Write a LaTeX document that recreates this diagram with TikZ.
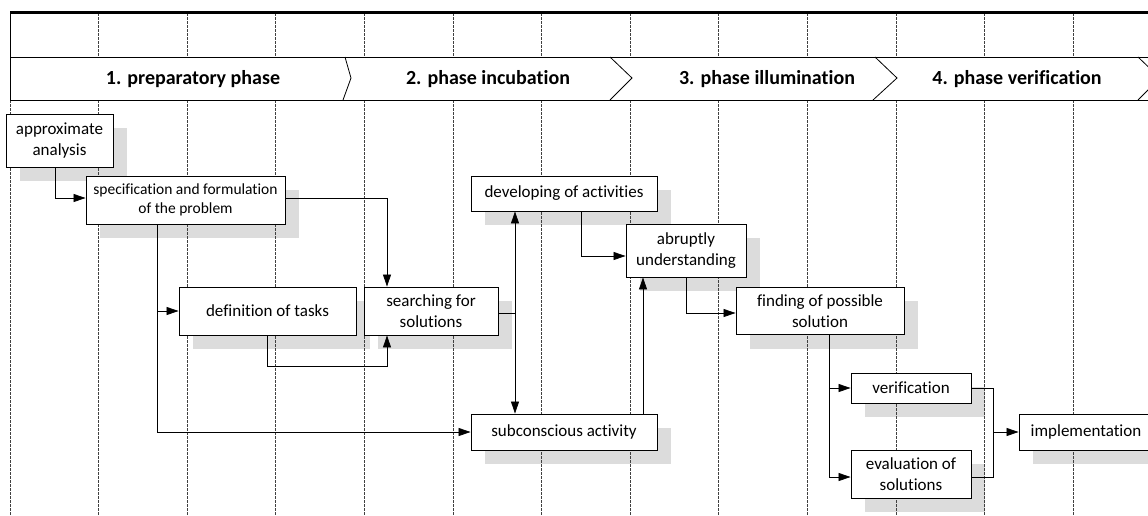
\documentclass[tikz,border=0pt]{standalone}
\usepackage{fontspec}
\setmainfont[Ligatures=NoCommon]{Carlito}
\usetikzlibrary{arrows.meta,positioning,calc}
\definecolor{shadowgray}{HTML}{DCDCDC}
\tikzset{
  box/.style={draw=black, line width=0.9pt, fill=white, inner sep=0pt, align=center,
    font=\fontsize{17}{21}\selectfont},
  conn/.style={draw=black, line width=0.8pt},
  arr/.style={conn, -{Triangle[length=12pt,width=8pt]}},
  arrtwo/.style={conn, {Triangle[length=12pt,width=8pt]}-{Triangle[length=12pt,width=8pt]}},
  gridline/.style={draw=black!75, line width=0.6pt, dash pattern=on 2.5pt off 1.5pt},
  header/.style={font=\fontsize{20}{24}\selectfont\bfseries, inner sep=0pt},
}
\begin{document}
\begin{tikzpicture}[x=1pt, y=-1pt]
\useasboundingbox (0,0) rectangle (1148,515);
\clip (0,0) rectangle (1148,515);
% shadows
\fill[shadowgray] (20,128) rectangle (127,181);
\fill[shadowgray] (100,190) rectangle (299,238);
\fill[shadowgray] (193,301) rectangle (370,349);
\fill[shadowgray] (378,301) rectangle (512,349);
\fill[shadowgray] (485,190) rectangle (671,225);
\fill[shadowgray] (640,238) rectangle (760,291);
\fill[shadowgray] (485,428) rectangle (671,464);
\fill[shadowgray] (750,301) rectangle (918,349);
\fill[shadowgray] (865,387) rectangle (985,417);
\fill[shadowgray] (865,464) rectangle (985,512);
\fill[shadowgray] (1033,428) rectangle (1167,464);
% grid lines
\foreach \i in {1,...,12} {
  \pgfmathsetmacro{\xx}{10+88.58*\i}
  \draw[gridline] (\xx,13) -- (\xx,57);
  \draw[gridline] (\xx,100) -- (\xx,515);
}
\draw[gridline] (10,100) -- (10,515);
% top frame and phase band
\draw[line width=3pt] (10,12) -- (1160,12);
\draw[line width=0.8pt] (10,12) -- (10,100);
\draw[line width=0.8pt] (10,57) -- (1160,57);
\draw[line width=0.8pt] (10,100) -- (1160,100);
\draw[line width=0.8pt] (345,57) -- (351,78) -- (343,100);
\draw[line width=0.8pt] (610,57) -- (632,78) -- (610,100);
\draw[line width=0.8pt] (875,57) -- (897,78) -- (873,100);
\draw[line width=0.8pt] (1138,57) -- (1160,78) -- (1138,100);
\node[header] (h1) at (193,79) {1. preparatory phase};
\node[header] (h2) at (488,79) {2. phase incubation};
\node[header] (h3) at (767,79) {3. phase illumination};
\node[header] (h4) at (1017,79) {4. phase verification};
% boxes
\node[box, minimum width=107pt, minimum height=53pt] (aa) at (59.5,140.5) {approximate\\analysis};
\node[box, minimum width=199pt, minimum height=48pt, font=\fontsize{15.5}{19.5}\selectfont] (spec) at (185.5,200) {specification and formulation\\of the problem};
\node[box, minimum width=177pt, minimum height=48pt] (def) at (267.5,311) {definition of tasks};
\node[box, minimum width=134pt, minimum height=48pt] (search) at (431,311) {searching for\\solutions};
\node[box, minimum width=186pt, minimum height=35pt] (dev) at (564,193.5) {developing of activities};
\node[box, minimum width=120pt, minimum height=53pt] (abr) at (686,250.5) {abruptly\\understanding};
\node[box, minimum width=186pt, minimum height=36pt] (sub) at (564,432) {subconscious activity};
\node[box, minimum width=168pt, minimum height=47pt] (find) at (820,311) {finding of possible\\solution};
\node[box, minimum width=120pt, minimum height=30pt] (ver) at (911,388) {verification};
\node[box, minimum width=120pt, minimum height=48pt] (eval) at (911,474) {evaluation of\\solutions};
\node[box, minimum width=134pt, minimum height=36pt] (impl) at (1086,432) {implementation};
% helper coordinates
\coordinate (sx) at ([xshift=-28.5pt]spec.south);
\coordinate (kx) at ([xshift=-44pt]search.north);
\coordinate (kb) at ([xshift=-44pt]search.south);
\coordinate (vx) at ([xshift=-49pt]dev.south);
\coordinate (fx) at ([xshift=9pt]find.south);
\coordinate (jx) at ([xshift=22pt]ver.east);
% connectors
\draw[arr] ([xshift=-4.5pt]aa.south) |- ([yshift=2pt]spec.west);
\draw[arr] ([yshift=2pt]spec.east) -| (kx);
\draw[arr] (sx) |- (sub.west);
\draw[arr] (sx |- def.west) -- (def.west);
\draw[arr] (def.south) -- ++(0,31) -| (kb);
\draw[conn] ([yshift=-2pt]search.east) -- ([yshift=-2pt]search.east -| vx);
\draw[arrtwo] (vx) -- (vx |- sub.north);
\draw[arr] ([xshift=17pt]dev.south) |- ([yshift=-5.5pt]abr.west);
\draw[arr] ([xshift=79pt]sub.north) -- ([xshift=79pt]sub.north |- abr.south);
\draw[arr] (abr.south) |- ([yshift=-2pt]find.west);
\draw[arr] (fx) |- (ver.west);
\draw[arr] (fx) |- ([yshift=-3pt]eval.west);
\draw[conn] (ver.east) -- (jx) |- ([yshift=-3pt]eval.east);
\draw[arr] (jx |- impl.west) -- (impl.west);
\end{tikzpicture}
\end{document}
